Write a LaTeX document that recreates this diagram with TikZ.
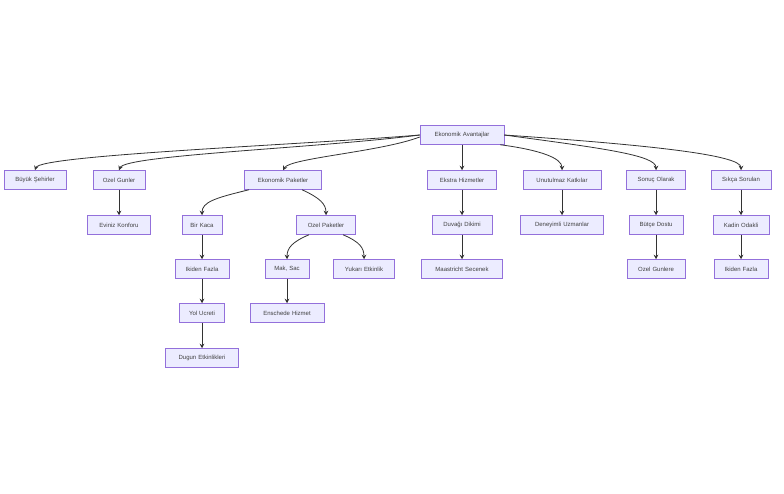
\documentclass[tikz,border=0pt]{standalone}
\usepackage{fontspec}
\setmainfont{Liberation Sans}
\usetikzlibrary{arrows.meta}
\definecolor{boxfill}{HTML}{ECECFF}
\definecolor{boxline}{HTML}{9370DB}
\definecolor{edgecol}{HTML}{333333}
\tikzset{every picture/.style={line width=0.75pt}}
\tikzset{
  box/.style={draw=boxline,fill=boxfill,line width=0.5pt,inner sep=0pt,minimum height=19pt,text width=#1,align=center,font=\fontsize{6pt}{7pt}\selectfont,text=black!75},
  box/.default=60pt,
  link/.style={draw=edgecol,line width=0.8pt,-{Stealth[length=4.5pt,width=4.5pt]}}
}
\begin{document}
\begin{tikzpicture}[x=1pt,y=1pt,yscale=-1]
\useasboundingbox (0,0) rectangle (784,494);

%Root
\node[box=84pt] (root) at (462,135) {Ekonomik Avantajlar};
%Level one
\node[box=62pt] (buyuk) at (35,180) {Büyük Şehirler};
\node[box=52pt] (ozelg) at (119,180) {Ozel Gunler};
\node[box=77pt] (ekop) at (283,180) {Ekonomik Paketler};
\node[box=69pt] (ekstra) at (462,180) {Ekstra Hizmetler};
\node[box=78pt] (unut) at (562,180) {Unutulmaz Katkılar};
\node[box=59pt] (sonuc) at (656,180) {Sonuç Olarak};
\node[box=60pt] (sikca) at (741,180) {Sıkça Sorulan};
%Level two
\node[box=63pt] (eviniz) at (119,225) {Eviniz Konforu};
\node[box=40pt] (birk) at (202,225) {Bir Kaca};
\node[box=59pt] (ozelp) at (326,225) {Ozel Paketler};
\node[box=60pt] (duvagi) at (462,225) {Duvağı Dikimi};
\node[box=83pt] (deney) at (562,225) {Deneyimli Uzmanlar};
\node[box=54pt] (butce) at (656,225) {Bütçe Dostu};
\node[box=56pt] (kadin) at (741,225) {Kadin Odakli};
%Level three
\node[box=54pt] (ikiden) at (202,269) {Ikiden Fazla};
\node[box=44pt] (mak) at (287,269) {Mak, Sac};
\node[box=61pt] (yukari) at (364,269) {Yukarı Etkinlik};
\node[box=81pt] (maas) at (462,269) {Maastricht Secenek};
\node[box=58pt] (ozelgl) at (656,269) {Ozel Gunlere};
\node[box=54pt] (ikiden2) at (741,269) {Ikiden Fazla};
%Level four
\node[box=45pt] (yol) at (202,313) {Yol Ucreti};
\node[box=74pt] (ensch) at (287,313) {Enschede Hizmet};
\node[box=73pt] (dugun) at (202,358) {Dugun Etkinlikleri};

%Edges
\draw[link] (root.west) .. controls (300,145) and (40,155) .. (buyuk.north);
\draw[link] (root.west) .. controls (320,148) and (125,155) .. (ozelg.north);
\draw[link] ([yshift=2pt]root.west) .. controls (380,152) and (290,158) .. (ekop.north);
\draw[link] (root) -- (ekstra);
\draw[link] ([xshift=-4pt]root.south east) .. controls (540,150) and (562,158) .. (unut.north);
\draw[link] (root.east) .. controls (600,148) and (656,155) .. (sonuc.north);
\draw[link] (root.east) .. controls (650,145) and (741,155) .. (sikca.north);
\draw[link] (ozelg) -- (eviniz);
\draw[link] ([xshift=-34pt]ekop.south) .. controls (215,198) and (202,202) .. (birk.north);
\draw[link] ([xshift=19pt]ekop.south) .. controls (320,198) and (326,204) .. (ozelp.north);
\draw[link] (ekstra) -- (duvagi);
\draw[link] (unut) -- (deney);
\draw[link] (sonuc) -- (butce);
\draw[link] (sikca) -- (kadin);
\draw[link] (birk) -- (ikiden);
\draw[link] ([xshift=-17pt]ozelp.south) .. controls (292,242) and (287,248) .. (mak.north);
\draw[link] ([xshift=17pt]ozelp.south) .. controls (360,242) and (364,248) .. (yukari.north);
\draw[link] (duvagi) -- (maas);
\draw[link] (butce) -- (ozelgl);
\draw[link] (kadin) -- (ikiden2);
\draw[link] (ikiden) -- (yol);
\draw[link] (mak) -- (ensch);
\draw[link] (yol) -- (dugun);

\end{tikzpicture}
\end{document}
